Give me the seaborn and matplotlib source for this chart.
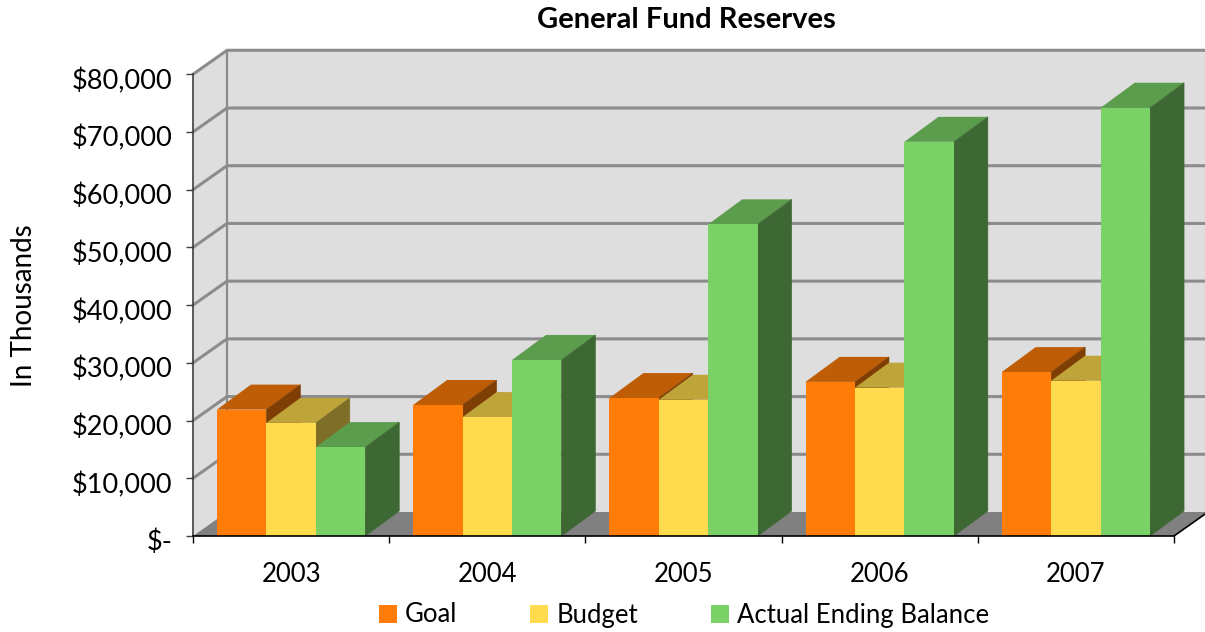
import pandas as pd
import seaborn as sns
import matplotlib.pyplot as plt
from matplotlib.patches import Polygon
from matplotlib.ticker import FuncFormatter
from matplotlib.transforms import ScaledTranslation

years = ['2003', '2004', '2005', '2006', '2007']
goal = [21900, 22700, 23900, 26700, 28400]
budget = [19600, 20600, 23600, 25700, 26900]
actual = [15400, 30500, 54000, 68300, 74200]
series = ['Goal', 'Budget', 'Actual Ending Balance']
y_ticks = [0, 10000, 20000, 30000, 40000, 50000, 60000, 70000, 80000]

front = ['#ff7c08', '#ffdb4d', '#7ad166']
top = ['#bf5d06', '#bfa43a', '#5c9d4d']
side = ['#7f3e04', '#7f6e27', '#3d6833']

W, H = 1205, 632

sns.set_style('white')
plt.rcParams['font.family'] = ['Lato', 'DejaVu Sans']

df = pd.DataFrame({
    'year': years * 3,
    'series': [s for s in series for _ in years],
    'value': goal + budget + actual,
})

fig = plt.figure(figsize=(W / 100, H / 100), dpi=100)
ax = fig.add_axes([193 / W, 1 - 536 / H, 981 / W, 461.7 / H])

sns.barplot(data=df, x='year', y='value', hue='series', order=years, hue_order=series,
            palette=front, saturation=1, width=0.756, gap=0, dodge=True, errorbar=None,
            linewidth=0, ax=ax)
ax.set_xlim(-0.5, 4.5)
ax.set_ylim(0, 80000)

# depth of the fake 3d box, in data units
dx = 34 / (981 / 5)
dy = 24 / (461.7 / 80000)
bar_dy = 25 / (461.7 / 80000)
x0, x1 = -0.5, 4.5
wall_right = x1 + 0.3


def poly(points, color, z, edge='none', lw=0):
    ax.add_patch(Polygon(points, closed=True, facecolor=color, edgecolor=edge, linewidth=lw,
                         clip_on=False, zorder=z))


# walls and floor
poly([(x0 + dx, dy), (wall_right, dy), (wall_right, 80000 + dy), (x0 + dx, 80000 + dy)], '#dedede', 0.1)
poly([(x0, 0), (x0 + dx, dy), (x0 + dx, 80000 + dy), (x0, 80000)], '#dedede', 0.1)
poly([(x0, 0), (x0 + dx, dy), (wall_right, dy), (x1 + dx, dy), (x1, 0)], '#808080', 0.2)

for v in y_ticks[1:]:
    ax.plot([x0, x0 + dx, wall_right], [v, v + dy, v + dy], color='#8c8c8c', lw=2.2,
            clip_on=False, zorder=0.3, solid_joinstyle='miter')
ax.plot([x0 + dx, x0 + dx], [dy, 80000 + dy], color='#8c8c8c', lw=1.6, clip_on=False, zorder=0.3)
ax.plot([x1, x1 + dx], [0, dy], color='black', lw=1.2, clip_on=False, zorder=5)

# boxes are painted left to right so the next one hides the side of the last
for i in range(len(years)):
    for j, bars in enumerate(ax.containers):
        bar = bars[i]
        left, right = bar.get_x(), bar.get_x() + bar.get_width()
        h = bar.get_height()
        z = 1 + i * len(series) + j
        poly([(left, h), (left + dx, h + bar_dy), (right + dx, h + bar_dy), (right, h)], top[j], z)
        poly([(right, 0), (right + dx, bar_dy), (right + dx, h + bar_dy), (right, h)], side[j], z + 0.1,
             edge=side[j], lw=0.4)
        bar.set_zorder(z + 0.2)

sns.despine(ax=ax)
ax.spines['left'].set_color('#404040')
ax.spines['bottom'].set_color('black')
for s in ['left', 'bottom']:
    ax.spines[s].set_linewidth(1.2)
    ax.spines[s].set_zorder(30)

ax.set_yticks(y_ticks)
ax.yaxis.set_major_formatter(FuncFormatter(lambda v, p: '$-' if v == 0 else '${:,.0f}'.format(v)))
ax.set_xticks([x0 + k for k in range(6)], minor=True)
ax.tick_params(axis='x', which='minor', bottom=True, length=5, width=1, color='black')
ax.tick_params(axis='x', which='major', bottom=False, pad=15, labelsize=18.5, labelcolor='black')
ax.tick_params(axis='y', left=True, length=5, width=1, color='#404040', pad=10,
               labelsize=19.5, labelcolor='black')
ax.set_xlabel('')
ax.set_ylabel('')

# the labels sit a little under their ticks
shift = ScaledTranslation(0, -3 / 72, fig.dpi_scale_trans)
for label in ax.get_yticklabels():
    label.set_transform(label.get_transform() + shift)

fig.text(686 / W, 1 - 20 / H, 'General Fund Reserves', ha='center', va='center',
         fontsize=21, fontweight='bold', color='black')
fig.text(24 / W, 1 - 306 / H, 'In Thousands', ha='center', va='center', rotation=90,
         fontsize=20, color='black')

sns.move_legend(ax, 'center', bbox_to_anchor=(684 / W, 1 - 615 / H),
                bbox_transform=fig.transFigure, ncol=3, frameon=False, title=None,
                fontsize=18.5, handlelength=0.7, handleheight=0.7, handletextpad=0.3,
                columnspacing=2.85, borderpad=0, borderaxespad=0, labelcolor='black')

fig.savefig('out.png', dpi=100)
